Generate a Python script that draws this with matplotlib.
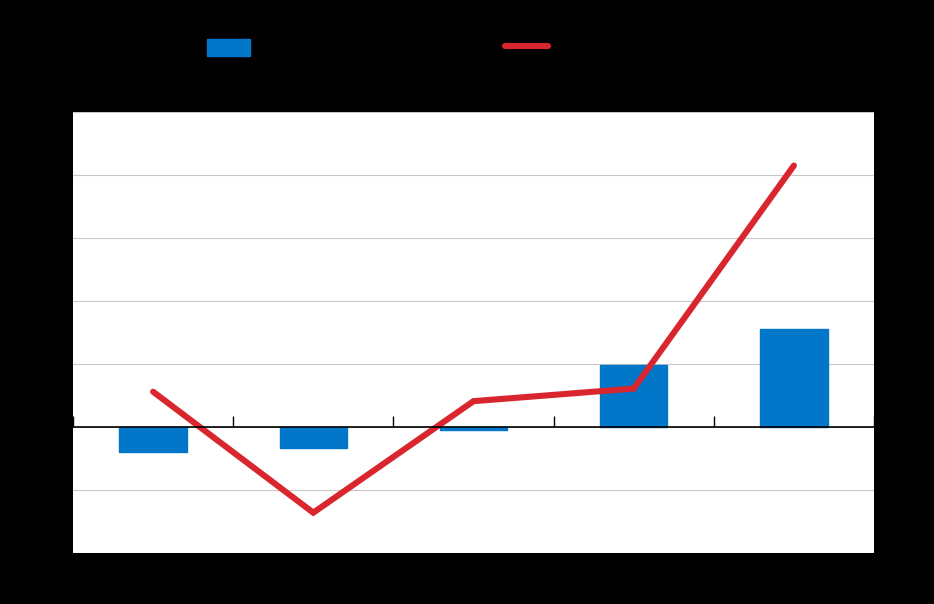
import numpy as np
import matplotlib.pyplot as plt
from matplotlib.patches import Patch
from matplotlib.lines import Line2D

# Data
categories = ['2019', '2020', '2021', '2022', '2023']
bar_values = [-0.40, -0.33, -0.04, 0.98, 1.56]
line_values = [0.56, -1.36, 0.41, 0.61, 4.15]
y_ticks = [-2, -1, 0, 1, 2, 3, 4, 5]
bar_label = 'Change'
line_label = 'Growth rate (%)'

blue = '#0077c8'
red = '#d9262e'

fig = plt.figure(figsize=(9.34, 6.04), dpi=100, facecolor='black')
ax = fig.add_axes([73 / 934, 51 / 604, 801 / 934, 441 / 604])
ax.set_facecolor('white')

x = np.arange(len(categories))
ax.bar(x, bar_values, width=0.42, color=blue, edgecolor=blue,
       linewidth=1, joinstyle='round', zorder=3)
ax.plot(x, line_values, color=red, linewidth=4.4, solid_capstyle='round',
        solid_joinstyle='miter', zorder=4)

ax.set_xlim(-0.5, len(categories) - 0.5)
ax.set_ylim(y_ticks[0], y_ticks[-1])
ax.set_yticks(y_ticks)
ax.set_yticklabels([str(v) for v in y_ticks], color='black', fontsize=12)
ax.tick_params(axis='y', length=0, pad=8)
ax.grid(axis='y', color='#c8c8c8', linewidth=0.8, zorder=0)

# category separators on the zero line
ax.set_xticks(np.arange(-0.5, len(categories), 1.0))
ax.set_xticklabels([])
ax.set_xticks(x, minor=True)
ax.set_xticklabels(categories, minor=True, color='black', fontsize=12)
ax.tick_params(axis='x', which='major', direction='in', length=8,
               width=1, color='black')
ax.tick_params(axis='x', which='minor', length=0, pad=98)

for side in ['top', 'right', 'left']:
    ax.spines[side].set_visible(False)
ax.spines['bottom'].set_position(('data', 0))
ax.spines['bottom'].set_linewidth(1.2)
ax.spines['bottom'].set_zorder(5)

handles = [Patch(facecolor=blue, edgecolor=blue),
           Line2D([0], [0], color=red, linewidth=4.4, solid_capstyle='round')]
fig.legend(handles, [bar_label, line_label], loc='center left',
           bbox_to_anchor=(192 / 934, 1 - 48 / 604), ncol=2, frameon=False,
           fontsize=12, handlelength=2.6, handleheight=1.25,
           columnspacing=10.66, labelcolor='black')

fig.savefig('out.png', dpi=100, facecolor='black')
